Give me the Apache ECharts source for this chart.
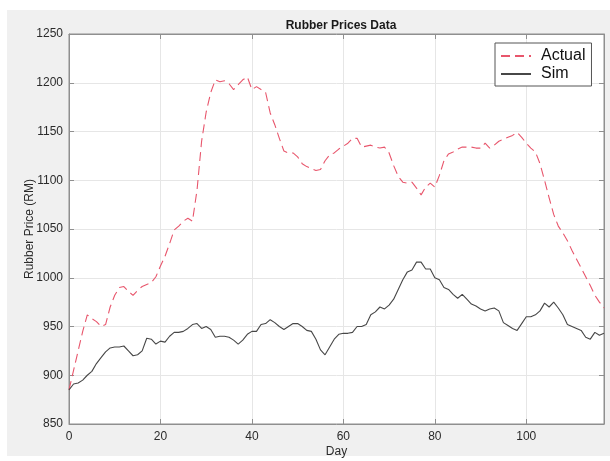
<!DOCTYPE html>
<html>
<head>
<meta charset="utf-8">
<style>
  html, body { margin: 0; padding: 0; background: #ffffff; }
  #chart { width: 610px; height: 461px; }
</style>
<script src="https://cdn.jsdelivr.net/npm/echarts@6/dist/echarts.min.js"></script>
</head>
<body>
<div id="chart"></div>
<script>
// Day index for each observation
const days = [];
for (let d = 0; d <= 117; d++) days.push(d);

// Observed rubber price (RM) per day
const actualPrices = [
  885, 905, 925, 945, 962, 958, 955, 950, 952, 970,
  982, 990, 991, 986, 982, 987, 991, 993, 995, 1001,
  1012, 1022, 1035, 1049, 1053, 1058, 1061, 1058, 1090, 1140,
  1170, 1190, 1203, 1201, 1202, 1199, 1193, 1198, 1203, 1206,
  1193, 1196, 1193, 1190, 1169, 1157, 1143, 1130, 1128, 1128,
  1124, 1117, 1114, 1112, 1110, 1111, 1120, 1126, 1128, 1132,
  1135, 1138, 1143, 1143, 1134, 1135, 1136, 1134, 1133, 1134,
  1128, 1115, 1104, 1098, 1097, 1098, 1092, 1085, 1093, 1097,
  1093, 1105, 1120, 1127, 1129, 1132, 1134, 1134, 1134, 1133,
  1133, 1138, 1133, 1136, 1140, 1142, 1144, 1146, 1149, 1144,
  1138, 1133, 1129, 1117, 1100, 1082, 1065, 1053, 1046, 1038,
  1028, 1019, 1010, 1001, 992, 982, 975, 969
];

// Simulated rubber price (RM) per day
const simPrices = [
  885, 891, 892, 895, 900, 904, 912, 918, 924, 928,
  929, 929, 930, 925, 920, 921, 925, 938, 937, 932,
  935, 934, 940, 944, 944, 945, 948, 952, 953, 948,
  950, 947, 939, 940, 940, 939, 936, 932, 936, 942,
  945, 945, 952, 953, 957, 954, 950, 947, 950, 953,
  953, 950, 946, 945, 937, 926, 921, 929, 937, 942,
  943, 943, 944, 950, 950, 952, 962, 965, 970, 968,
  972, 978, 988, 998, 1006, 1008, 1016, 1016, 1009, 1009,
  1000, 998, 990, 988, 983, 979, 983, 978, 973, 971,
  968, 966, 968, 969, 966, 954, 951, 948, 946, 953,
  960, 960, 962, 966, 974, 970, 975, 969, 962, 952,
  950, 948, 946, 939, 937, 944, 941, 943
];

const xTicks = [0, 20, 40, 60, 80, 100];
const yTicks = [850, 900, 950, 1000, 1050, 1100, 1150, 1200, 1250];

const pair = (vals) => days.map((d, i) => [d, vals[i]]);

const FONT = '"Liberation Sans", Arial, Helvetica, sans-serif';
const AXIS_GRAY = '#8f8f8f';
const LABEL = '#2b2b2b';
const RED = '#e8566c';
const DARK = '#474747';

const chart = echarts.init(document.getElementById('chart'), null, { renderer: 'canvas' });

const tickStyle = { show: true, inside: true, length: 5, lineStyle: { color: AXIS_GRAY, width: 1 } };

chart.setOption({
  animation: false,
  backgroundColor: '#ffffff',
  textStyle: { fontFamily: FONT },
  graphic: [{
    type: 'rect', z: -10, silent: true,
    shape: { x: 7, y: 10, width: 603, height: 446 },
    style: { fill: '#f0f0f0' }
  }],
  title: {
    text: 'Rubber Prices Data',
    left: 336, top: 15, textAlign: 'center',
    textStyle: { fontFamily: FONT, fontSize: 12, fontWeight: 'bold', color: '#1a1a1a' }
  },
  legend: {
    orient: 'vertical',
    left: 495, top: 43,
    width: 99,
    padding: [5, 6, 4, 5],
    itemGap: 2,
    itemWidth: 30, itemHeight: 14,
    backgroundColor: '#ffffff',
    borderColor: '#555555', borderWidth: 1, borderRadius: 0,
    itemStyle: { opacity: 0 },
    textStyle: { fontFamily: FONT, fontSize: 16, color: '#111111', padding: [0, 0, 0, 5] },
    data: [
      { name: 'Actual', itemStyle: { opacity: 0 } },
      { name: 'Sim', itemStyle: { opacity: 0 } }
    ]
  },
  grid: {
    left: 69, top: 34, right: 6, bottom: 37,
    outerBoundsMode: 'none', containLabel: false,
    show: true, backgroundColor: '#ffffff', borderColor: AXIS_GRAY, borderWidth: 1
  },
  xAxis: [{
    type: 'value', min: 0, max: 117, interval: 20,
    name: 'Day', nameLocation: 'middle', nameGap: 22, nameMoveOverlap: false,
    nameTextStyle: { fontFamily: FONT, fontSize: 12, color: LABEL },
    axisLine: { show: true, onZero: false, lineStyle: { color: AXIS_GRAY } },
    axisTick: tickStyle,
    axisLabel: {
      fontFamily: FONT, fontSize: 12, color: LABEL, margin: 7,
      showMaxLabel: false,
      formatter: (v) => xTicks.includes(v) ? String(v) : ''
    },
    splitLine: { show: true, lineStyle: { color: '#e6e6e6', width: 1 } }
  }, {
    type: 'value', position: 'top', min: 0, max: 117, interval: 20,
    axisLine: { show: true, onZero: false, lineStyle: { color: AXIS_GRAY } },
    axisTick: tickStyle, axisLabel: { show: false }, splitLine: { show: false }
  }],
  yAxis: [{
    type: 'value', min: 850, max: 1250, interval: 50,
    name: 'Rubber Price (RM)', nameLocation: 'middle', nameGap: 33, nameMoveOverlap: false,
    nameTextStyle: { fontFamily: FONT, fontSize: 12, color: LABEL },
    axisLine: { show: true, onZero: false, lineStyle: { color: AXIS_GRAY } },
    axisTick: tickStyle,
    axisLabel: {
      fontFamily: FONT, fontSize: 12, color: LABEL, margin: 6,
      formatter: (v) => yTicks.includes(v) ? String(v) : ''
    },
    splitLine: { show: true, lineStyle: { color: '#e6e6e6', width: 1 } }
  }, {
    type: 'value', position: 'right', min: 850, max: 1250, interval: 50,
    axisLine: { show: true, onZero: false, lineStyle: { color: AXIS_GRAY } },
    axisTick: tickStyle, axisLabel: { show: false }, splitLine: { show: false }
  }],
  series: [{
    name: 'Actual', type: 'line',
    data: pair(actualPrices),
    showSymbol: false, symbol: 'none',
    itemStyle: { color: RED },
    lineStyle: { color: RED, width: 1.1, type: [9, 5] },
    z: 3
  }, {
    name: 'Sim', type: 'line',
    data: pair(simPrices),
    showSymbol: false, symbol: 'none',
    itemStyle: { color: DARK },
    lineStyle: { color: DARK, width: 1.1 },
    z: 4
  }]
});
</script>
</body>
</html>
